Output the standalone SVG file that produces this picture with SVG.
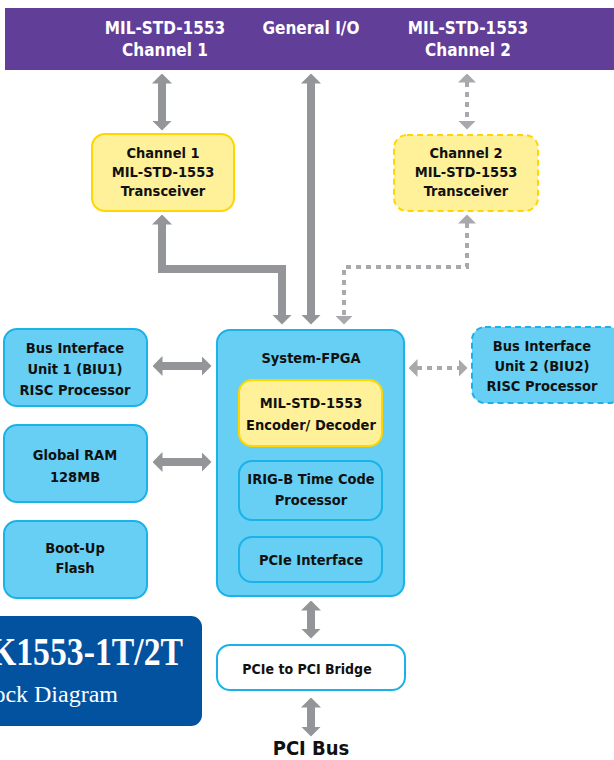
<svg xmlns="http://www.w3.org/2000/svg" width="614" height="760" viewBox="0 0 614 760">
<style>
.t{font-family:"Liberation Sans Narrow","DejaVu Sans Condensed","Liberation Sans",sans-serif;font-weight:bold;text-anchor:middle;fill:#111;}
.w{fill:#fff;font-size:17px;}
.n{font-size:14.5px;}
.blue{fill:#66cff3;stroke:#1ab2e8;stroke-width:2;}
.yel{fill:#fff09a;stroke:#ffd600;stroke-width:2;}
.dash{stroke-dasharray:6 4;}
.c{fill:none;stroke:#939598;stroke-width:8;stroke-linejoin:miter;marker-start:url(#ah);marker-end:url(#ah);}
.cd{fill:none;stroke:#a7a9ac;stroke-width:4;stroke-dasharray:5 5;marker-start:url(#ahd);marker-end:url(#ahd);}
</style>
<defs>
<marker id="ah" markerUnits="userSpaceOnUse" markerWidth="10" markerHeight="20" viewBox="0 0 10 20" refX="0.5" refY="10" orient="auto-start-reverse"><path d="M0,0 L10,10 L0,20 z" fill="#939598"/></marker>
<marker id="ahd" markerUnits="userSpaceOnUse" markerWidth="9" markerHeight="18" viewBox="0 0 9 18" refX="0.5" refY="9" orient="auto-start-reverse"><path d="M0,0 L9,9 L0,18 z" fill="#a7a9ac"/></marker>
</defs>
<rect width="614" height="760" fill="#fff"/>
<g id="banner">
<rect x="5" y="8" width="614" height="62" fill="#613e98"/>
<text class="t w" x="165" y="34">MIL-STD-1553</text>
<text class="t w" x="165" y="56">Channel 1</text>
<text class="t w" x="311" y="34">General I/O</text>
<text class="t w" x="468" y="34">MIL-STD-1553</text>
<text class="t w" x="468" y="56">Channel 2</text>
</g>
<g id="connectors">
<path class="c" d="M162,83 V121"/>
<path class="c" d="M311,83 V315"/>
<path class="cd" d="M467,82 V121"/>
<path class="c" d="M162,224 V269 H282 V315"/>
<path class="cd" d="M467,223 V267 H344 V316"/>
<path class="c" d="M162,366 H202"/>
<path class="c" d="M162,462 H202"/>
<path class="cd" d="M417,368 H459"/>
<path class="c" d="M311,610 V629"/>
<path class="c" d="M311,707 V727"/>
</g>
<g id="ch1">
<rect class="yel" x="92" y="134" width="142" height="77" rx="13"/>
<text class="t n" x="163" y="158">Channel 1</text>
<text class="t n" x="163" y="177">MIL-STD-1553</text>
<text class="t n" x="163" y="196">Transceiver</text>
</g>
<g id="ch2">
<rect class="yel dash" x="394" y="135" width="144" height="76" rx="13"/>
<text class="t n" x="466" y="158">Channel 2</text>
<text class="t n" x="466" y="177">MIL-STD-1553</text>
<text class="t n" x="466" y="196">Transceiver</text>
</g>
<g id="biu1">
<rect class="blue" x="4" y="329" width="143" height="77" rx="13"/>
<text class="t n" x="75" y="353">Bus Interface</text>
<text class="t n" x="75" y="374">Unit 1 (BIU1)</text>
<text class="t n" x="75" y="395">RISC Processor</text>
</g>
<g id="ram">
<rect class="blue" x="4" y="425" width="143" height="77" rx="13"/>
<text class="t n" x="75" y="460">Global RAM</text>
<text class="t n" x="75" y="482">128MB</text>
</g>
<g id="flash">
<rect class="blue" x="4" y="521" width="143" height="77" rx="13"/>
<text class="t n" x="75" y="553">Boot-Up</text>
<text class="t n" x="75" y="573">Flash</text>
</g>
<g id="biu2">
<rect class="blue dash" x="472" y="327" width="150" height="76" rx="13"/>
<text class="t n" x="542" y="351">Bus Interface</text>
<text class="t n" x="542" y="371">Unit 2 (BIU2)</text>
<text class="t n" x="542" y="391">RISC Processor</text>
</g>
<g id="fpga">
<rect class="blue" x="217" y="330" width="187" height="266" rx="13"/>
<text class="t n" x="311" y="363">System-FPGA</text>
</g>
<g id="encoder">
<rect class="yel" x="239" y="380" width="143" height="66" rx="13"/>
<text class="t n" x="311" y="408">MIL-STD-1553</text>
<text class="t n" x="311" y="430">Encoder/ Decoder</text>
</g>
<g id="irig">
<rect class="blue" x="239" y="461" width="143" height="59" rx="13"/>
<text class="t n" x="311" y="484">IRIG-B Time Code</text>
<text class="t n" x="311" y="505">Processor</text>
</g>
<g id="pcie">
<rect class="blue" x="239" y="537" width="143" height="45" rx="13"/>
<text class="t n" x="311" y="565">PCIe Interface</text>
</g>
<g id="bridge">
<rect x="217" y="645" width="188" height="45" rx="13" fill="#fff" stroke="#1ab2e8" stroke-width="2"/>
<text class="t" x="307" y="674" font-size="14">PCIe to PCI Bridge</text>
</g>
<g id="pcibus">
<text class="t" x="311" y="755" font-size="20">PCI Bus</text>
</g>
<g id="title">
<rect x="-20" y="616" width="222" height="110" rx="11" fill="#0352a0"/>
<text x="-10" y="665" font-family="Liberation Serif, serif" font-size="41" font-weight="bold" fill="#fff" textLength="193" lengthAdjust="spacingAndGlyphs">K1553-1T/2T</text>
<text x="118" y="702" font-family="Liberation Serif, serif" font-size="24" fill="#fff" text-anchor="end">Block Diagram</text>
</g>
</svg>
